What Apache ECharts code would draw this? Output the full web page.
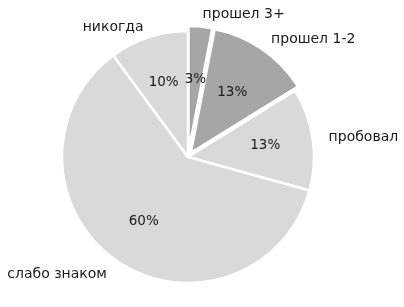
<!DOCTYPE html>
<html><head><meta charset="utf-8">
<script src="https://cdn.jsdelivr.net/npm/echarts@6/dist/echarts.min.js"></script>
<style>html,body{margin:0;padding:0;background:#fff}#c{width:404px;height:307px}</style>
</head><body><div id="c"></div>
<script>
const categories = ['прошел 3+', 'прошел 1-2', 'пробовал', 'слабо знаком', 'никогда'];
const values = [3, 13, 13, 60, 10];
const colors = ['#a6a6a6', '#a6a6a6', '#d9d9d9', '#d9d9d9', '#d9d9d9'];
const exploded = [true, true, false, false, false];
const lineLen = [12, 12, 10, 17, 10];
const lineLen2 = [0, 0, 3, 0, 0];
const labelDist = [1, 2, 3, 0, 2];

const font = 'DejaVu Sans';
const chart = echarts.init(document.getElementById('c'), null, {renderer: 'canvas'});
const mainData = categories.map((n, i) => ({
  name: n, value: values[i], selected: exploded[i],
  itemStyle: {color: colors[i]},
  label: {distanceToLabelLine: labelDist[i]},
  labelLine: {length: lineLen[i], length2: lineLen2[i], show: false}
}));
const pctData = categories.map((n, i) => ({name: n, value: values[i]}));
chart.setOption({
  animation: false,
  series: [{
    type: 'pie', center: [188, 157], radius: 126, startAngle: 90, clockwise: true,
    selectedMode: 'multiple', selectedOffset: 5,
    avoidLabelOverlap: false,
    itemStyle: {borderColor: '#fff', borderWidth: 2.5},
    label: {show: true, position: 'outside', formatter: '{b}', color: '#1a1a1a', fontFamily: font, fontSize: 14},
    labelLine: {show: false},
    emphasis: {disabled: true},
    data: mainData
  }, {
    type: 'pie', center: [188, 157], radius: 150, startAngle: 90, clockwise: true,
    silent: true, avoidLabelOverlap: false,
    itemStyle: {color: 'rgba(0,0,0,0)'},
    label: {show: true, position: 'inside', formatter: p => p.value + '%', color: '#1a1a1a', fontFamily: font, fontSize: 13.5},
    labelLine: {show: false},
    data: pctData
  }]
});
</script></body></html>
